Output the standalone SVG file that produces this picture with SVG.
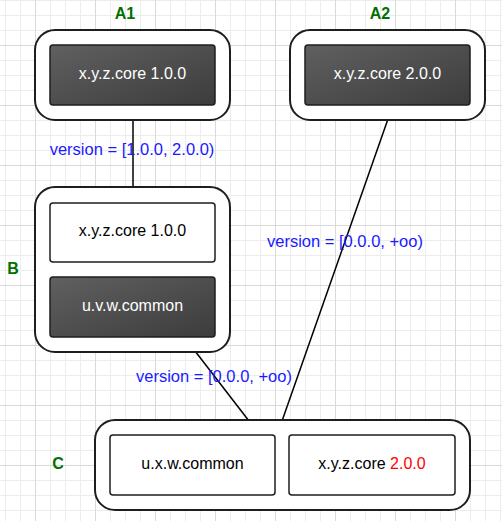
<svg xmlns="http://www.w3.org/2000/svg" width="502" height="521" viewBox="0 0 502 521">
  <defs>
    <pattern id="grid" x="35" y="45" width="60" height="60" patternUnits="userSpaceOnUse">
      <path d="M15.5 0V60M30.5 0V60M45.5 0V60M0 15.5H60M0 30.5H60M0 45.5H60" stroke="#ececec" stroke-width="1" fill="none"/>
      <path d="M0.5 0V60M0 0.5H60" stroke="#dadada" stroke-width="1" fill="none"/>
    </pattern>
    <linearGradient id="dark" x1="0" y1="0" x2="1" y2="1">
      <stop offset="0" stop-color="#606060"/>
      <stop offset="1" stop-color="#3c3c3c"/>
    </linearGradient>
  </defs>
  <style>
    .outer { fill: #ffffff; stroke: #1e1e1e; stroke-width: 2; }
    .dark { fill: url(#dark); stroke: #1e1e1e; stroke-width: 1.5; }
    .light { fill: #ffffff; stroke: #1e1e1e; stroke-width: 1.5; }
    .t { font-family: "Liberation Sans", Arial, sans-serif; font-size: 16px; text-anchor: middle; }
    .tw { fill: #ffffff; }
    .tb { fill: #000000; }
    .lbl { font-family: "Liberation Sans", Arial, sans-serif; font-size: 16px; font-weight: bold; fill: #007000; text-anchor: middle; }
    .ver { font-family: "Liberation Sans", Arial, sans-serif; font-size: 16.5px; fill: #1a1aff; text-anchor: middle; }
    .red { fill: #ff0000; }
    .conn { stroke: #000000; stroke-width: 1.5; fill: none; }
  </style>
  <rect width="502" height="521" fill="#ffffff"/>
  <rect width="502" height="521" fill="url(#grid)"/>

  <g id="connectors">
    <line class="conn" x1="133" y1="119" x2="133" y2="188"/>
    <line class="conn" x1="131" y1="119" x2="135" y2="119"/>
    <line class="conn" x1="131" y1="188" x2="135" y2="188"/>
    <line class="conn" x1="388" y1="119" x2="282" y2="421"/>
    <line class="conn" x1="386" y1="119" x2="390" y2="119"/>
    <line class="conn" x1="280" y1="421" x2="284" y2="421"/>
    <line class="conn" x1="195" y1="351" x2="249" y2="421"/>
    <line class="conn" x1="193" y1="351" x2="197" y2="351"/>
    <line class="conn" x1="247" y1="421" x2="251" y2="421"/>
    <text class="ver" x="132" y="155">version = [1.0.0, 2.0.0)</text>
    <text class="ver" x="345" y="247">version = [0.0.0, +oo)</text>
    <text class="ver" x="214" y="382">version = [0.0.0, +oo)</text>
  </g>

  <g id="A1">
    <text class="lbl" x="125" y="19">A1</text>
    <rect class="outer" x="35" y="30" width="195" height="90" rx="20" ry="20"/>
    <rect class="dark" x="50" y="45" width="165" height="60" rx="3" ry="3"/>
    <text class="t tw" x="132.5" y="79">x.y.z.core 1.0.0</text>
  </g>

  <g id="A2">
    <text class="lbl" x="380" y="19">A2</text>
    <rect class="outer" x="290" y="30" width="195" height="90" rx="20" ry="20"/>
    <rect class="dark" x="305" y="45" width="165" height="60" rx="3" ry="3"/>
    <text class="t tw" x="387.5" y="79">x.y.z.core 2.0.0</text>
  </g>

  <g id="B">
    <text class="lbl" x="13" y="274">B</text>
    <rect class="outer" x="35" y="187" width="195" height="165" rx="20" ry="20"/>
    <rect class="light" x="50" y="203" width="165" height="59" rx="3" ry="3"/>
    <text class="t tb" x="132.5" y="236">x.y.z.core 1.0.0</text>
    <rect class="dark" x="50" y="277" width="165" height="60" rx="3" ry="3"/>
    <text class="t tw" x="132.5" y="311">u.v.w.common</text>
  </g>

  <g id="C">
    <text class="lbl" x="58" y="469">C</text>
    <rect class="outer" x="95" y="420" width="375" height="90" rx="20" ry="20"/>
    <rect class="light" x="110" y="435" width="165" height="60" rx="3" ry="3"/>
    <text class="t tb" x="192.5" y="469">u.x.w.common</text>
    <rect class="light" x="289" y="435" width="166" height="60" rx="3" ry="3"/>
    <text class="t tb" x="372" y="469">x.y.z.core <tspan class="red">2.0.0</tspan></text>
  </g>
</svg>
